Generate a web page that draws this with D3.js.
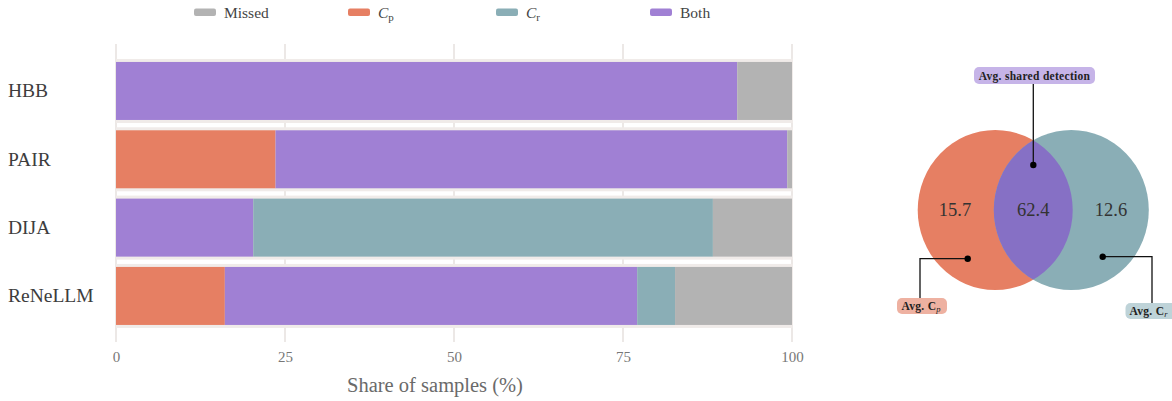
<!DOCTYPE html>
<html>
<head>
<meta charset="utf-8">
<script src="https://cdn.jsdelivr.net/npm/d3@7"></script>
<style>
  html, body { margin: 0; padding: 0; background: #fff; }
  svg { display: block; }
  svg text { font-family: "Liberation Serif", "Times New Roman", serif; }
</style>
</head>
<body>
<svg id="chart" width="1172" height="401"></svg>
<script>
// Detection outcome shares per attack (percent of samples)
const attacks = ["HBB", "PAIR", "DIJA", "ReNeLLM"];
const seriesKeys = ["Cp", "Both", "Cr", "Missed"];
const cpShare     = [0, 23.6, 0, 16.1];
const bothShare   = [91.9, 75.7, 20.3, 61.0];
const crShare     = [0, 0, 68.0, 5.6];
const missedShare = [8.1, 0.7, 11.7, 17.3];
const xTicks = [0, 25, 50, 75, 100];

// Venn summary averages
const vennValues = { cp: 15.7, both: 62.4, cr: 12.6 };

const colors = { Cp: "#e67f63", Cr: "#8aaeb6", Both: "#a080d4", Missed: "#b3b3b3" };
const SERIF = "Liberation Serif";

const rows = attacks.map((a, i) => ({
  attack: a, Cp: cpShare[i], Both: bothShare[i], Cr: crShare[i], Missed: missedShare[i]
}));

const svg = d3.select("#chart");

// ---- stacked horizontal bars ----
const x = d3.scaleLinear().domain([0, 100]).range([116, 792]);
const y = d3.scaleBand().domain(attacks).range([56.8, 330.1]).paddingInner(0.151).paddingOuter(0.0755);

// vertical grid
svg.append("g").selectAll("line").data(xTicks).join("line")
  .attr("x1", d => x(d)).attr("x2", d => x(d))
  .attr("y1", 44).attr("y2", 342)
  .attr("stroke", "#e6e0de").attr("stroke-width", 1.5);

// light frame behind each row
svg.append("g").selectAll("rect").data(attacks).join("rect")
  .attr("x", x(0)).attr("width", x(100) - x(0) + 1)
  .attr("y", d => y(d) - 3).attr("height", y.bandwidth() + 6)
  .attr("fill", "#f0ebe9");

const stacked = d3.stack().keys(seriesKeys)(rows);
svg.append("g").selectAll("g").data(stacked).join("g")
  .attr("fill", s => colors[s.key])
  .selectAll("rect").data(s => s).join("rect")
  .attr("x", d => x(d[0]))
  .attr("width", d => Math.max(0, x(d[1]) - x(d[0])))
  .attr("y", d => y(d.data.attack))
  .attr("height", y.bandwidth());

// category labels
svg.append("g").selectAll("text").data(attacks).join("text")
  .attr("font-family", SERIF)
  .attr("x", 8).attr("y", d => y(d) + y.bandwidth() / 2)
  .attr("dominant-baseline", "central")
  .attr("font-size", 19.5).attr("fill", "#3d3d3d")
  .text(d => d);

// x axis tick labels
const xAxis = d3.axisBottom(x).tickValues(xTicks).tickSize(0).tickPadding(0);
const gx = svg.append("g").attr("transform", "translate(0,351)").call(xAxis);
gx.attr("font-family", SERIF);
gx.select(".domain").remove();
gx.selectAll("text")
  .attr("font-family", SERIF)
  .attr("font-size", 15).attr("fill", "#777");

svg.append("text")
  .attr("font-family", SERIF)
  .attr("x", 435).attr("y", 392)
  .attr("text-anchor", "middle")
  .attr("font-size", 20.5).attr("fill", "#6a6a6a")
  .text("Share of samples (%)");

// ---- legend ----
const legendItems = [
  { key: "Missed", x: 194 },
  { key: "Cp", x: 348 },
  { key: "Cr", x: 496 },
  { key: "Both", x: 650 }
];
const lg = svg.append("g").selectAll("g").data(legendItems).join("g")
  .attr("transform", d => `translate(${d.x},0)`);
lg.append("rect")
  .attr("x", 0).attr("y", 8.5).attr("width", 22).attr("height", 7.5).attr("rx", 2)
  .attr("fill", d => colors[d.key]);
lg.each(function(d) {
  const t = d3.select(this).append("text")
    .attr("font-family", SERIF)
    .attr("x", 30).attr("y", 17.5)
    .attr("font-size", 15.5).attr("fill", "#444");
  if (d.key === "Cp" || d.key === "Cr") {
    t.append("tspan").attr("font-style", "italic").text("C");
    t.append("tspan").attr("font-size", 11).attr("dy", 3).text(d.key === "Cp" ? "p" : "r");
  } else {
    t.text(d.key);
  }
});

// ---- Venn diagram ----
const venn = { cy: 210, rx: 77.5, ry: 80, cxL: 995.2, cxR: 1071.3 };
const defs = svg.append("defs");
defs.append("clipPath").attr("id", "clipLeft")
  .append("ellipse").attr("cx", venn.cxL).attr("cy", venn.cy).attr("rx", venn.rx).attr("ry", venn.ry);

svg.append("ellipse")
  .attr("cx", venn.cxL).attr("cy", venn.cy).attr("rx", venn.rx).attr("ry", venn.ry)
  .attr("fill", colors.Cp);
svg.append("ellipse")
  .attr("cx", venn.cxR).attr("cy", venn.cy).attr("rx", venn.rx).attr("ry", venn.ry)
  .attr("fill", colors.Cr);
svg.append("ellipse")
  .attr("clip-path", "url(#clipLeft)")
  .attr("cx", venn.cxR).attr("cy", venn.cy).attr("rx", venn.rx).attr("ry", venn.ry)
  .attr("fill", "#8670c5");

const vennLabels = [
  { v: vennValues.cp, x: 955 },
  { v: vennValues.both, x: 1033.3 },
  { v: vennValues.cr, x: 1111 }
];
svg.append("g").selectAll("text").data(vennLabels).join("text")
  .attr("font-family", SERIF)
  .attr("x", d => d.x).attr("y", venn.cy)
  .attr("text-anchor", "middle").attr("dominant-baseline", "central")
  .attr("font-size", 18.5).attr("fill", "#333")
  .text(d => d.v.toFixed(1));

// annotation callouts
const ann = svg.append("g");
function callout(points, dot) {
  ann.append("path")
    .attr("d", d3.line()(points))
    .attr("fill", "none").attr("stroke", "#111").attr("stroke-width", 1.3);
  ann.append("circle").attr("cx", dot[0]).attr("cy", dot[1]).attr("r", 3.2).attr("fill", "#000");
}
callout([[1033.3, 84], [1033.3, 165]], [1033.3, 165]);
callout([[967.7, 258.7], [920, 258.7], [920, 298]], [967.7, 258.7]);
callout([[1102.7, 256.7], [1152, 256.7], [1152, 303]], [1102.7, 256.7]);

function tagBox(x0, y0, w, h, fill) {
  ann.append("rect").attr("x", x0).attr("y", y0).attr("width", w).attr("height", h)
    .attr("rx", 5).attr("fill", fill);
}
tagBox(974, 67, 121, 17, "#c6b4e8");
ann.append("text").attr("font-family", SERIF)
  .attr("x", 1034.5).attr("y", 79.5).attr("text-anchor", "middle")
  .attr("font-size", 11.5).attr("font-weight", "bold").attr("letter-spacing", 0.3).attr("fill", "#222")
  .text("Avg. shared detection");

tagBox(897, 298, 50, 16, "#eeb1a1");
const tp = ann.append("text").attr("font-family", SERIF).attr("x", 901.5).attr("y", 310)
  .attr("font-size", 11.5).attr("font-weight", "bold").attr("letter-spacing", 0.3).attr("fill", "#222");
tp.append("tspan").text("Avg. C");
tp.append("tspan").attr("font-size", 8.5).attr("font-style", "italic").attr("font-weight", "normal").attr("dy", 2).text("p");

tagBox(1125.5, 303, 52, 16, "#bed3d8");
const tr = ann.append("text").attr("font-family", SERIF).attr("x", 1129.5).attr("y", 315)
  .attr("font-size", 11.5).attr("font-weight", "bold").attr("letter-spacing", 0.3).attr("fill", "#222");
tr.append("tspan").text("Avg. C");
tr.append("tspan").attr("font-size", 8.5).attr("font-style", "italic").attr("font-weight", "normal").attr("dy", 2).text("r");
</script>
</body>
</html>
